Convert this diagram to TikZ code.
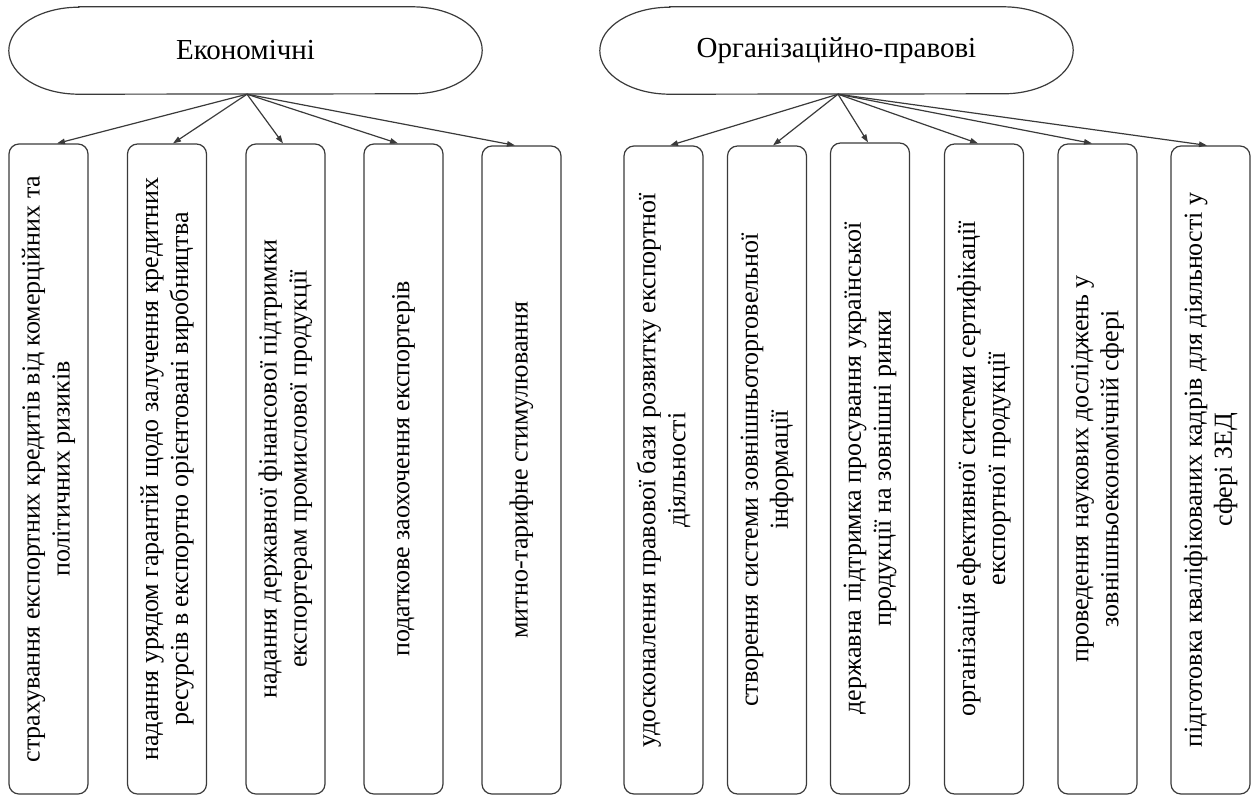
\documentclass[tikz,border=0pt]{standalone}
\usepackage{fontspec}
\setmainfont{Liberation Serif}
\usetikzlibrary{arrows.meta}
\definecolor{linec}{HTML}{3A3A3A}
\begin{document}
\begin{tikzpicture}[x=1pt,y=-1pt,
 ln/.style={draw=linec, line width=1.2pt},
 title/.style={font=\fontsize{29}{34}\selectfont, minimum width=473pt, minimum height=87pt, inner sep=0pt},
 box/.style={ln, rounded corners=10pt, rotate=90, minimum height=79pt, inner sep=0pt, align=center, font=\fontsize{26}{30}\selectfont},
 arr/.style={ln, -{Triangle[length=8pt,width=5.5pt]}}]
\useasboundingbox (0,0) rectangle (1255,796);

\node[title] (E) at (245.5,50.5) {Економічні};
\node[title] (O) at (836.5,50.5) {Організаційно-правові};
\foreach \n in {E,O}{
  \draw[ln] ([xshift=70pt]\n.north west) -- ([xshift=-70pt]\n.north east)
    arc[start angle=90,end angle=-90,x radius=70pt,y radius=43.5pt]
    -- ([xshift=70pt]\n.south west)
    arc[start angle=270,end angle=90,x radius=70pt,y radius=43.5pt] -- cycle;
}

\node[box, minimum width=650pt] (L1) at (48.5,469) {страхування експортних кредитів від комерційних та\\політичних ризиків};
\node[box, minimum width=650pt] (L2) at (167,469) {надання урядом гарантій щодо залучення кредитних\\ресурсів в експортно орієнтовані виробництва};
\node[box, minimum width=650pt] (L3) at (285.5,469) {надання державної фінансової підтримки\\експортерам промислової продукції};
\node[box, minimum width=650pt] (L4) at (403.5,469) {податкове заохочення експортерів};
\node[box, minimum width=648pt] (L5) at (521.5,470) {митно-тарифне стимулювання};

\node[box, minimum width=648pt] (R1) at (663.5,470) {удосконалення правової бази розвитку експортної\\діяльності};
\node[box, minimum width=648pt] (R2) at (767,470) {створення системи зовнішньоторговельної\\інформації};
\node[box, minimum width=651pt] (R3) at (870,468.5) {державна підтримка просування української\\продукції на зовнішні ринки};
\node[box, minimum width=650pt] (R4) at (984,469) {організація ефективної системи сертифікації\\експортної продукції};
\node[box, minimum width=650pt] (R5) at (1097.5,469) {проведення наукових досліджень у\\зовнішньоекономічній сфері};
\node[box, minimum width=648pt] (R6) at (1210.5,470) {підготовка кваліфікованих кадрів для діяльності у\\сфері ЗЕД};

\draw[arr] ([xshift=1.5pt]E.south) -- ([xshift=8.5pt]L1.east);
\draw[arr] ([xshift=1.5pt]E.south) -- ([xshift=6pt]L2.east);
\draw[arr] ([xshift=1.5pt]E.south) -- ([xshift=-2.5pt]L3.east);
\draw[arr] ([xshift=1.5pt]E.south) -- ([xshift=-5.5pt]L4.east);
\draw[arr] ([xshift=1.5pt]E.south) -- ([xshift=-6.5pt]L5.east);

\draw[arr] ([xshift=1.5pt]O.south) -- ([xshift=6.5pt]R1.east);
\draw[arr] ([xshift=1.5pt]O.south) -- ([xshift=6pt]R2.east);
\draw[arr] ([xshift=1.5pt]O.south) -- ([xshift=-2pt]R3.east);
\draw[arr] ([xshift=1.5pt]O.south) -- ([xshift=-6pt]R4.east);
\draw[arr] ([xshift=1.5pt]O.south) -- ([xshift=-5.5pt]R5.east);
\draw[arr] ([xshift=1.5pt]O.south) -- ([xshift=-3.5pt]R6.east);
\end{tikzpicture}
\end{document}
